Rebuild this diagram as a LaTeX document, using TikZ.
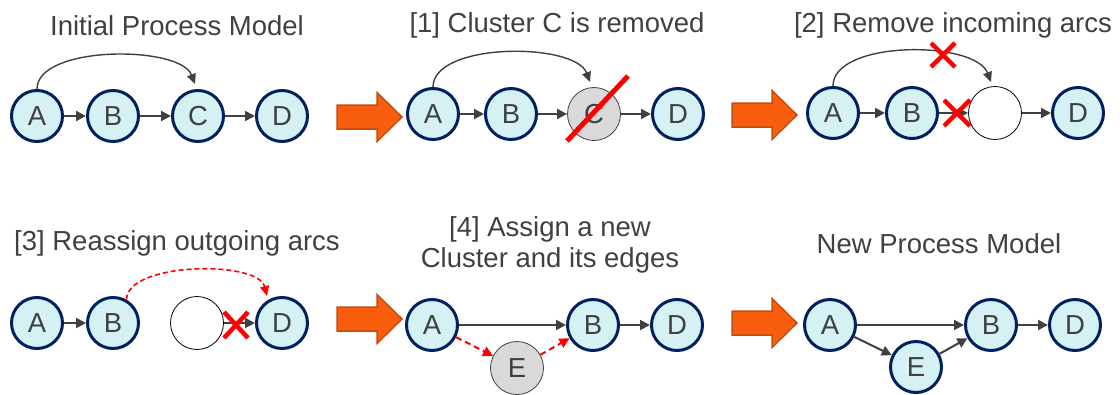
\documentclass[tikz,border=0pt]{standalone}
\usepackage{fontspec}
\setmainfont{Liberation Sans}
\usetikzlibrary{arrows.meta}
\definecolor{txt}{HTML}{404040}
\definecolor{nodefill}{HTML}{D5F1F4}
\definecolor{navy}{HTML}{002060}
\definecolor{grayfill}{HTML}{D9D9D9}
\definecolor{orfill}{HTML}{F95E0E}
\definecolor{ordraw}{HTML}{C24E10}
\definecolor{xred}{HTML}{FF0000}
\begin{document}
\begin{tikzpicture}[x=1pt,y=-1pt,
  font=\fontsize{27.5}{31}\selectfont,
  title/.style={text=txt,anchor=base,inner sep=0pt},
  pn/.style={circle,draw=navy,fill=nodefill,line width=3pt,minimum size=51pt,inner sep=0pt,text=txt},
  gn/.style={circle,draw=txt,fill=grayfill,line width=0.8pt,minimum size=53pt,inner sep=0pt,text=txt},
  en/.style={circle,draw=black,fill=white,line width=0.8pt,minimum size=53pt,inner sep=0pt},
  arr/.style={draw=txt,line width=2pt,-{Triangle[length=10pt,width=10pt]}},
  curv/.style={draw=txt,line width=1.4pt,-{Triangle[length=10pt,width=9pt]}},
  rarr/.style={draw=xred,line width=2pt,dash pattern=on 6pt off 4pt,-{Triangle[length=10pt,width=10pt]}},
  rcurv/.style={draw=xred,line width=1.6pt,dash pattern=on 5pt off 3pt,-{Triangle[length=10pt,width=9pt]}},
  xmark/.style={draw=xred,line width=4.5pt},
  slash/.style={draw=xred,line width=5pt},
  bigarrow/.style={fill=orfill,draw=ordraw,line width=1.5pt,line join=miter}
]
\useasboundingbox (0,0) rectangle (1120,394);

% ---------- titles ----------
\node[title] (t1) at (177,35) {Initial Process Model};
\node[title] (t2) at (557,32) {[1] Cluster C is removed};
\node[title] (t3) at (953,32) {[2] Remove incoming arcs};
\node[title] (t4) at (177,250) {[3] Reassign outgoing arcs};
\node[title] (t5a) at (550,236) {[4] Assign a new};
\node[title] (t5b) at (550,267) {Cluster and its edges};
\node[title] (t6) at (939,253) {New Process Model};

% ---------- big orange arrows ----------
\foreach \tx/\cy in {402/117, 797/115, 402/319, 797/323}{
  \draw[bigarrow] (\tx-65,\cy-12) -- (\tx-25,\cy-12) -- (\tx-25,\cy-24.5) -- (\tx,\cy)
    -- (\tx-25,\cy+24.5) -- (\tx-25,\cy+12) -- (\tx-65,\cy+12) -- cycle;
}

% ---------- panel 1 ----------
\node[pn] (a1) at (37,116) {A};
\node[pn] (b1) at (113,116) {B};
\node[pn] (c1) at (198,116) {C};
\node[pn] (d1) at (282,116) {D};
\draw[arr] (a1) -- (b1);
\draw[arr] (b1) -- (c1);
\draw[arr] (c1) -- (d1);
\coordinate (c1t) at (195,84);
\draw[curv] (a1.north) .. controls (37,45) and (180,45) .. (c1t);

% ---------- panel 2 ----------
\node[pn] (a2) at (433,114) {A};
\node[pn] (b2) at (511,114) {B};
\node[gn] (c2) at (594,114) {C};
\node[pn] (d2) at (678,114) {D};
\draw[arr] (a2) -- (b2);
\draw[arr] (b2) -- (c2);
\draw[arr] (c2) -- (d2);
\coordinate (c2t) at (590,82);
\draw[curv] (a2.north) .. controls (433,42) and (575,42) .. (c2t);
\coordinate (s2a) at (567,141);
\coordinate (s2b) at (628,76);
\draw[slash] (s2a) -- (s2b);

% ---------- panel 3 ----------
\node[pn] (a3) at (833,113) {A};
\node[pn] (b3) at (912,113) {B};
\node[en] (c3) at (995,113) {};
\node[pn] (d3) at (1078,113) {D};
\draw[arr] (a3) -- (b3);
\draw[arr] (b3) -- (c3);
\draw[arr] (c3) -- (d3);
\coordinate (c3t) at (991,82);
\draw[curv] (a3.north) .. controls (833,40) and (975,40) .. (c3t);
\coordinate (x3a) at (943,55);
\coordinate (x3b) at (957,113);
\draw[xmark] ([shift={(-12,-12)}]x3a) -- ([shift={(12,12)}]x3a);
\draw[xmark] ([shift={(-12,12)}]x3a) -- ([shift={(12,-12)}]x3a);
\draw[xmark] ([shift={(-13,-13)}]x3b) -- ([shift={(13,13)}]x3b);
\draw[xmark] ([shift={(-13,13)}]x3b) -- ([shift={(13,-13)}]x3b);

% ---------- panel 4 ----------
\node[pn] (a4) at (37,323) {A};
\node[pn] (b4) at (113,323) {B};
\node[en] (c4) at (197,323) {};
\node[pn] (d4) at (282,323) {D};
\draw[arr] (a4) -- (b4);
\draw[arr] (c4) -- (d4);
\coordinate (d4t) at (267,296);
\draw[rcurv] (b4.60) .. controls (127,262) and (258,260) .. (d4t);
\coordinate (x4) at (236,325);
\draw[xmark] ([shift={(-12,-13)}]x4) -- ([shift={(12,13)}]x4);
\draw[xmark] ([shift={(-12,13)}]x4) -- ([shift={(12,-13)}]x4);

% ---------- panel 5 ----------
\node[pn] (a5) at (432,325) {A};
\node[pn] (b5) at (593,325) {B};
\node[pn] (d5) at (677,325) {D};
\node[gn] (e5) at (517,368) {E};
\draw[arr] (a5) -- (b5);
\draw[arr] (b5) -- (d5);
\draw[rarr] (a5) -- (e5);
\draw[rarr] (e5) -- (b5);

% ---------- panel 6 ----------
\node[pn] (a6) at (830,325) {A};
\node[pn] (b6) at (991,325) {B};
\node[pn] (d6) at (1075,325) {D};
\node[pn] (e6) at (916,367) {E};
\draw[arr] (a6) -- (b6);
\draw[arr] (b6) -- (d6);
\draw[arr] (a6) -- (e6);
\draw[arr] (e6) -- (b6);
\end{tikzpicture}
\end{document}
